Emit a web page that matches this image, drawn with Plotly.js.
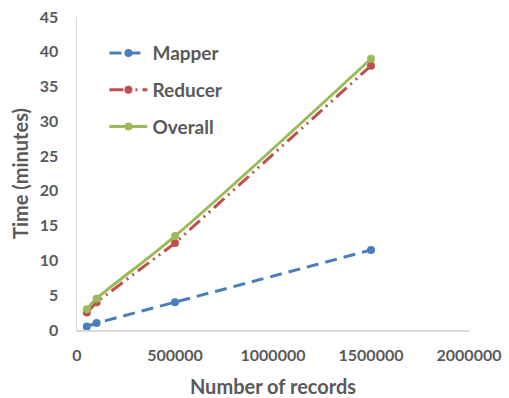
<!DOCTYPE html>
<html><head><meta charset="utf-8">
<script src="https://cdn.plot.ly/plotly-3.0.1.min.js"></script>
<style>body{margin:0;background:#fff}</style>
</head><body><div id="chart" style="width:509px;height:398px"></div>
<script>
const records = [50000, 100000, 500000, 1500000];
const mapper = [0.5, 1, 4, 11.5];
const reducer = [2.5, 4, 12.5, 38];
const overall = [3, 4.5, 13.5, 39];
const seriesNames = ['Mapper', 'Reducer', 'Overall'];

const fontFam = 'Lato, "Open Sans", "Liberation Sans", sans-serif';
const grey = '#595959';

const traces = [
  {x: records, y: mapper, name: seriesNames[0], legendgroup: 'a', mode: 'lines+markers', type: 'scatter',
   line: {color: '#4A7EBB', width: 3, dash: '12px,7px'}, marker: {size: 8, color: '#4A7EBB'}},
  {x: records, y: reducer, name: seriesNames[1], legendgroup: 'b', mode: 'lines+markers', type: 'scatter',
   line: {color: '#C0504D', width: 3, dash: '14px,5px,2px,5px,2px,5px'}, marker: {size: 8, color: '#C0504D'}},
  {x: records, y: overall, name: seriesNames[2], legendgroup: 'c', mode: 'lines+markers', type: 'scatter',
   line: {color: '#9BBB59', width: 3, shape: 'spline'}, marker: {size: 8, color: '#9BBB59'}}
];

const layout = {
  width: 509, height: 398,
  margin: {l: 77, r: 40, t: 17, b: 68},
  paper_bgcolor: '#fff', plot_bgcolor: '#fff',
  font: {family: fontFam, color: grey, size: 16},
  showlegend: true,
  legend: {x: 0.07, y: 0.945, xanchor: 'left', yanchor: 'top', bgcolor: 'rgba(0,0,0,0)',
    font: {family: fontFam, size: 19, color: grey, weight: 'bold'}, itemwidth: 38,
    traceorder: 'grouped', tracegroupgap: 9},
  xaxis: {range: [0, 2000000], tickvals: [0, 500000, 1000000, 1500000, 2000000],
    ticktext: ['0', '500000', '1000000', '1500000', '2000000'],
    showgrid: false, zeroline: false, showline: true, linecolor: '#D9D9D9', linewidth: 1.5,
    ticks: 'outside', ticklen: 10, tickcolor: 'rgba(0,0,0,0)',
    tickfont: {family: fontFam, size: 16, color: grey, weight: 'bold'},
    title: {text: 'Number of records', font: {family: fontFam, size: 20, color: grey, weight: 'bold'}, standoff: 17}},
  yaxis: {range: [0, 45], dtick: 5,
    showgrid: false, zeroline: false, showline: true, linecolor: '#D9D9D9', linewidth: 1.5,
    ticks: 'outside', ticklen: 14, tickcolor: 'rgba(0,0,0,0)',
    tickfont: {family: fontFam, size: 16, color: grey, weight: 'bold'},
    title: {text: 'Time (minutes)', font: {family: fontFam, size: 20, color: grey, weight: 'bold'}, standoff: 5}}
};
Plotly.newPlot('chart', traces, layout, {displayModeBar: false, staticPlot: true});
</script></body></html>
